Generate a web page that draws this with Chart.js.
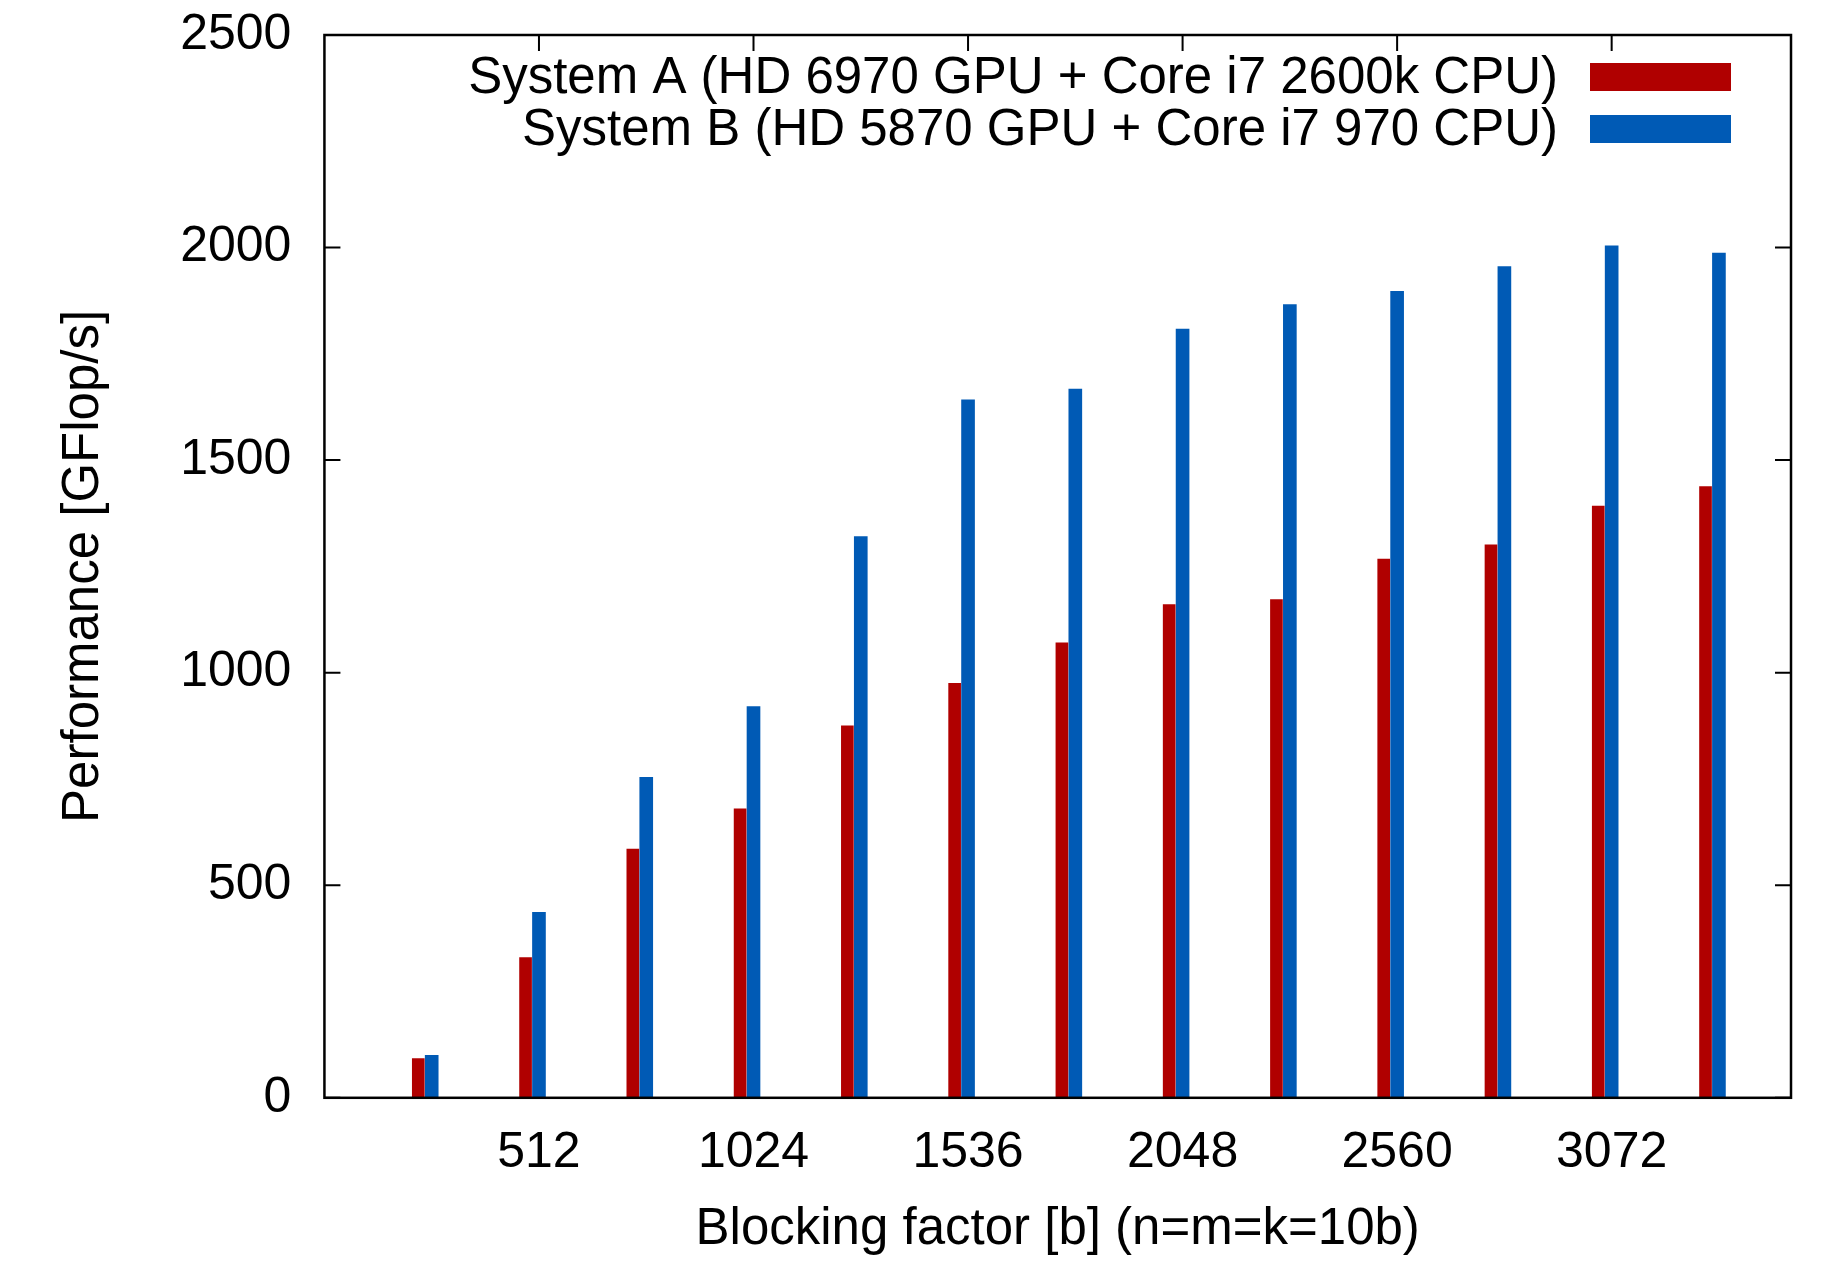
<!DOCTYPE html>
<html>
<head>
<meta charset="utf-8">
<title>Performance vs blocking factor</title>
<script src="https://cdn.jsdelivr.net/npm/chart.js@4.4.0/dist/chart.umd.min.js"></script>
<style>
    body { margin: 0; background: #fff; }
    #wrap { width: 1833px; height: 1261px; }
</style>
</head>
<body>
<div id="wrap"><canvas id="perfChart" width="1833" height="1261"></canvas></div>
<script>
// du lieu doc tu hinh
const blockSizes = [256, 512, 768, 1024, 1280, 1536, 1792, 2048, 2304, 2560, 2816, 3072, 3328];
const systemA = [92, 330, 585, 680, 875, 975, 1070, 1160, 1172, 1267, 1301, 1392, 1438];
const systemB = [100, 436, 754, 920, 1320, 1642, 1667, 1808, 1866, 1897, 1955, 2004, 1987];
const xTickValues = [512, 1024, 1536, 2048, 2560, 3072];
const yTickValues = [0, 500, 1000, 1500, 2000, 2500];
const seriesNames = [
    'System A (HD 6970 GPU + Core i7 2600k CPU)',
    'System B (HD 5870 GPU + Core i7 970 CPU)'
];
const seriesColors = ['#b00000', '#005ab5'];

const FONT = "'Liberation Sans', Arial, sans-serif";
const xMin = 0, xMax = 3500;
const redShift = 32; // cot do nam ngay ben trai cot xanh

// khung, vach chia va chu thich kieu gnuplot
const gnuplotFrame = {
    id: 'gnuplotFrame',
    beforeDatasetsDraw(chart) {
        const { ctx, chartArea: a, scales } = chart;
        ctx.save();
        ctx.strokeStyle = '#000';
        ctx.lineWidth = 2;
        ctx.beginPath();
        yTickValues.forEach(v => {
            const py = scales.y.getPixelForValue(v);
            ctx.moveTo(a.left, py); ctx.lineTo(a.left + 16, py);
            ctx.moveTo(a.right, py); ctx.lineTo(a.right - 16, py);
        });
        xTickValues.forEach(v => {
            const px = scales.x.getPixelForValue(v);
            ctx.moveTo(px, a.top); ctx.lineTo(px, a.top + 16);
            ctx.moveTo(px, a.bottom); ctx.lineTo(px, a.bottom - 16);
        });
        ctx.stroke();
        ctx.restore();
    },
    afterDatasetsDraw(chart) {
        const { ctx, chartArea: a } = chart;
        ctx.save();
        ctx.strokeStyle = '#000';
        ctx.lineWidth = 2.5;
        ctx.strokeRect(a.left, a.top, a.right - a.left, a.bottom - a.top);

        // chu thich
        ctx.font = '51px ' + FONT;
        ctx.textAlign = 'right';
        ctx.textBaseline = 'middle';
        chart.data.datasets.forEach((ds, i) => {
            const cy = a.top + 42 + i * 52;
            ctx.fillStyle = '#000';
            ctx.fillText(ds.label, a.right - 233, cy + 2);
            ctx.fillStyle = ds.backgroundColor;
            ctx.fillRect(a.right - 201, cy - 14, 141, 28);
        });
        ctx.restore();
    }
};

const ctxPerf = document.getElementById('perfChart').getContext('2d');
const perfChart = new Chart(ctxPerf, {
    type: 'bar',
    data: {
        labels: blockSizes,
        datasets: [
            {
                label: seriesNames[0],
                data: systemA,
                backgroundColor: seriesColors[0],
                xAxisID: 'xA',
                barThickness: 12
            },
            {
                label: seriesNames[1],
                data: systemB,
                backgroundColor: seriesColors[1],
                xAxisID: 'x',
                barThickness: 13
            }
        ]
    },
    options: {
        responsive: false,
        animation: false,
        grouped: false,
        layout: { padding: { top: 35, right: 42, bottom: 0, left: 0 } },
        plugins: {
            legend: { display: false },
            tooltip: { enabled: false }
        },
        scales: {
            x: {
                type: 'linear',
                position: 'bottom',
                offset: false,
                min: xMin,
                max: xMax,
                grid: { display: false, offset: false },
                border: { display: false },
                afterBuildTicks: axis => { axis.ticks = xTickValues.map(v => ({ value: v })); },
                ticks: {
                    autoSkip: false,
                    maxRotation: 0,
                    padding: 17,
                    color: '#000',
                    font: { family: FONT, size: 50 },
                    callback: v => String(v)
                },
                title: {
                    display: true,
                    text: 'Blocking factor [b] (n=m=k=10b)',
                    color: '#000',
                    font: { family: FONT, size: 51 },
                    padding: { top: 0, bottom: 0 }
                }
            },
            xA: {
                type: 'linear',
                position: 'bottom',
                display: false,
                offset: false,
                grid: { offset: false },
                min: xMin + redShift,
                max: xMax + redShift
            },
            y: {
                min: 0,
                max: 2500,
                grid: {
                    display: true,
                    drawOnChartArea: false,
                    drawTicks: true,
                    tickLength: 33,
                    color: 'rgba(0,0,0,0)'
                },
                border: { display: false },
                afterBuildTicks: axis => { axis.ticks = yTickValues.map(v => ({ value: v })); },
                ticks: {
                    padding: 0,
                    color: '#000',
                    font: { family: FONT, size: 50 },
                    callback: v => String(v)
                },
                title: {
                    display: true,
                    text: 'Performance [GFlop/s]',
                    color: '#000',
                    font: { family: FONT, size: 51 },
                    padding: { top: 53, bottom: 66 }
                }
            }
        }
    },
    plugins: [gnuplotFrame]
});
</script>
</body>
</html>
